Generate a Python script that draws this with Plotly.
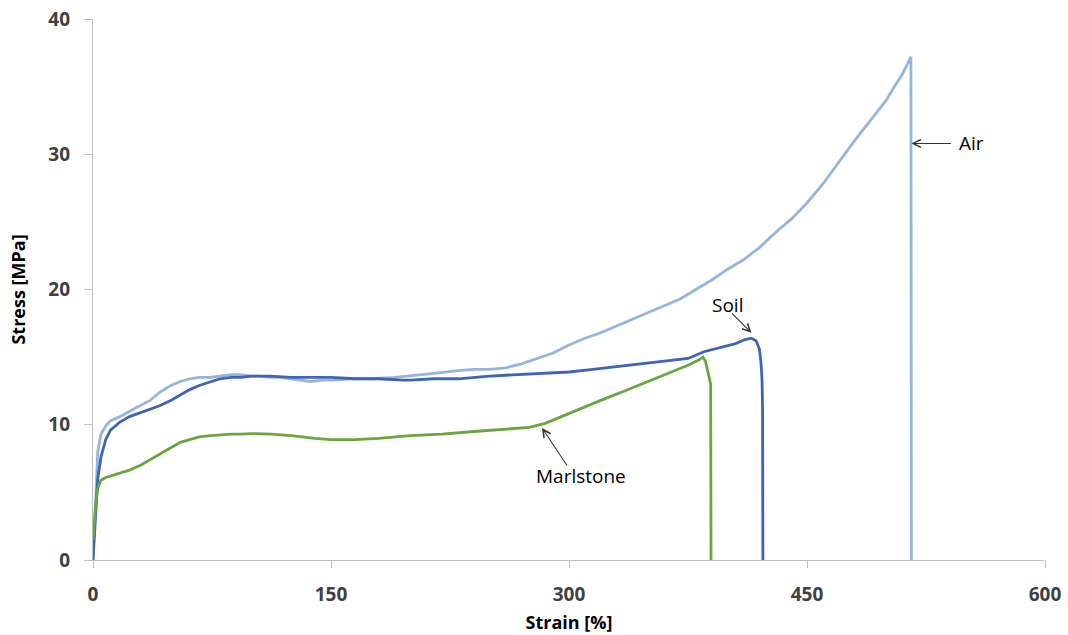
import plotly.graph_objects as go

# Air
air_x = [0, 1, 2, 3, 5, 8, 11, 17, 23, 30, 36, 42, 49, 55, 61, 67, 74, 80, 87, 93, 100, 105, 112, 118, 124, 130, 137, 145, 152, 162, 175, 190, 200, 215, 230, 240, 250, 260, 270, 280, 290, 300, 310, 320, 330, 340, 350, 360, 370, 380, 390, 400, 410, 420, 430, 440, 450, 460, 470, 480, 490, 500, 505, 510, 513, 515.5, 515.8]
air_y = [0, 3, 6, 8, 9.3, 9.9, 10.3, 10.6, 11.0, 11.4, 11.8, 12.4, 12.9, 13.2, 13.4, 13.5, 13.5, 13.6, 13.7, 13.7, 13.6, 13.6, 13.5, 13.5, 13.4, 13.3, 13.2, 13.3, 13.3, 13.4, 13.4, 13.5, 13.6, 13.8, 14.0, 14.1, 14.1, 14.2, 14.5, 14.9, 15.3, 15.9, 16.4, 16.8, 17.3, 17.8, 18.3, 18.8, 19.3, 20.0, 20.7, 21.5, 22.2, 23.1, 24.2, 25.2, 26.4, 27.8, 29.4, 31.0, 32.5, 34.0, 35.0, 35.9, 36.6, 37.2, 0]

# Soil
soil_x = [0, 1, 2, 3, 5, 8, 11, 17, 23, 30, 36, 42, 49, 55, 61, 67, 74, 80, 87, 93, 100, 112, 125, 140, 150, 165, 180, 195, 200, 215, 230, 250, 270, 290, 300, 315, 330, 350, 365, 375, 385, 395, 405, 411, 415, 418, 420, 421, 421.7, 422, 422.2]
soil_y = [0, 2, 4.5, 6, 7.6, 8.9, 9.6, 10.2, 10.6, 10.9, 11.1, 11.4, 11.8, 12.2, 12.6, 12.9, 13.2, 13.4, 13.5, 13.5, 13.6, 13.6, 13.5, 13.5, 13.5, 13.4, 13.4, 13.3, 13.3, 13.4, 13.4, 13.6, 13.7, 13.8, 13.9, 14.1, 14.3, 14.6, 14.8, 14.9, 15.4, 15.7, 16.0, 16.3, 16.4, 16.2, 15.6, 14.6, 13.2, 11.0, 0]

# Marlstone
marl_x = [0, 1, 2, 3, 5, 8, 11, 17, 23, 30, 36, 42, 49, 55, 61, 67, 74, 80, 87, 93, 100, 112, 125, 140, 150, 165, 180, 200, 220, 240, 260, 275, 285, 295, 305, 320, 335, 350, 365, 375, 382, 384.5, 386, 388, 389.3, 389.5]
marl_y = [1.5, 3.2, 4.5, 5.3, 5.9, 6.1, 6.2, 6.4, 6.65, 7.0, 7.4, 7.8, 8.3, 8.7, 8.9, 9.1, 9.2, 9.25, 9.3, 9.3, 9.35, 9.3, 9.2, 9.0, 8.9, 8.9, 9.0, 9.2, 9.3, 9.5, 9.7, 9.8, 10.1, 10.6, 11.1, 11.8, 12.5, 13.2, 13.9, 14.4, 14.8, 15.0, 14.7, 13.6, 13.0, 0]

x_ticks = [0, 150, 300, 450, 600]
y_ticks = [0, 10, 20, 30, 40]

FONT = "Open Sans, Liberation Sans, sans-serif"

fig = go.Figure()
fig.add_trace(go.Scatter(x=air_x, y=air_y, mode="lines", name="Air",
                         line=dict(color="#95B5DC", width=2.8)))
fig.add_trace(go.Scatter(x=soil_x, y=soil_y, mode="lines", name="Soil",
                         line=dict(color="#3D65B6", width=2.8)))
fig.add_trace(go.Scatter(x=marl_x, y=marl_y, mode="lines", name="Marlstone",
                         line=dict(color="#6AA53F", width=2.8)))

ann_font = dict(family=FONT, size=19, color="#000000")
arrow_kw = dict(showarrow=True, arrowhead=5, arrowsize=1.4, arrowwidth=1.1,
                arrowcolor="#333333", text="")
fig.add_annotation(x=515.8, y=30.8, ax=41, ay=0, **arrow_kw)
fig.add_annotation(x=544.5, y=30.8, text="Air", showarrow=False, font=ann_font,
                   xanchor="left", yanchor="middle")
fig.add_annotation(x=415, y=16.8, ax=-21, ay=-21, **arrow_kw)
fig.add_annotation(x=400, y=18.85, text="Soil", showarrow=False, font=ann_font,
                   xanchor="center", yanchor="middle")
fig.add_annotation(x=283, y=9.76, ax=26, ay=39, **arrow_kw)
fig.add_annotation(x=307.5, y=6.2, text="Marlstone", showarrow=False, font=ann_font,
                   xanchor="center", yanchor="middle")

tick_font = dict(family=FONT, size=19, color="#404040")
title_font = dict(family=FONT, size=18, color="#000000")
fig.update_layout(
    width=1068, height=635,
    margin=dict(l=93, r=23, t=19, b=75),
    plot_bgcolor="white", paper_bgcolor="white",
    showlegend=False,
    xaxis=dict(range=[0, 600], tickvals=x_ticks, ticktext=[f"<b>{v}</b>" for v in x_ticks],
               showgrid=False, zeroline=False, showline=True, linecolor="#BFBFBF", linewidth=1.3,
               ticks="outside", ticklen=7, tickcolor="#BFBFBF", tickfont=tick_font,
               ticklabelstandoff=10, automargin=False,
               title=dict(text="<b>Strain [%]</b>", font=title_font, standoff=10)),
    yaxis=dict(range=[0, 40], tickvals=y_ticks, ticktext=[f"<b>{v}</b>" for v in y_ticks],
               showgrid=False, zeroline=False, showline=True, linecolor="#BFBFBF", linewidth=1.3,
               ticks="outside", ticklen=8, tickcolor="#BFBFBF", tickfont=tick_font,
               ticklabelstandoff=10, automargin=False,
               title=dict(text="<b>Stress [MPa]</b>", font=title_font, standoff=18)),
)
fig.write_html("out.html")
